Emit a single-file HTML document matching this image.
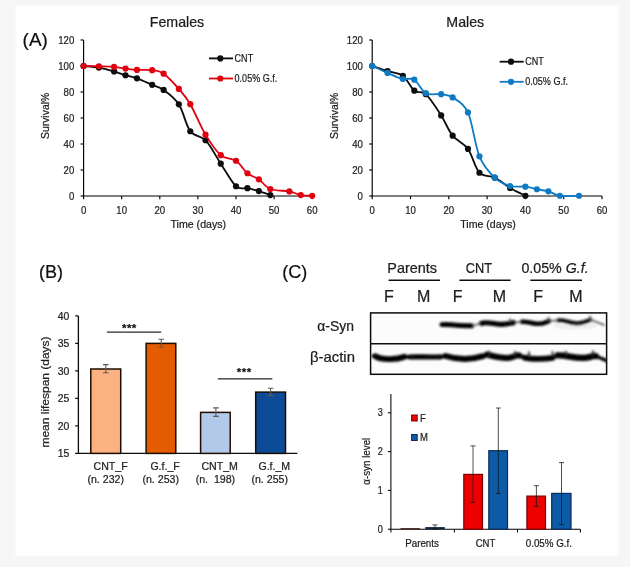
<!DOCTYPE html>
<html lang="en">
<head>
<meta charset="utf-8">
<title>Figure</title>
<style>
html,body{margin:0;padding:0;background:#f6f6f6;}
body{width:630px;height:567px;overflow:hidden;}
svg{display:block;font-family:"Liberation Sans", "DejaVu Sans", sans-serif;}
text{stroke:#1c1c1c;stroke-width:0.22px;paint-order:stroke;}
</style>
</head>
<body>
<svg width="630" height="567" viewBox="0 0 630 567">
<defs>
<filter id="bl" x="-5%" y="-50%" width="110%" height="200%"><feGaussianBlur stdDeviation="1.0"/></filter>
<filter id="soft" x="-2%" y="-2%" width="104%" height="104%"><feGaussianBlur stdDeviation="0.45"/></filter>
<filter id="soft2" x="-2%" y="-2%" width="104%" height="104%"><feGaussianBlur stdDeviation="1.1 0.6"/></filter>
<clipPath id="blotclip"><rect x="371.2" y="313.5" width="234.8" height="60.2"/></clipPath>
</defs>
<rect x="0" y="0" width="630" height="567" fill="#f6f6f6"/>
<rect x="15.4" y="5.6" width="602.9" height="550.3" fill="#ffffff" filter="url(#soft2)"/>
<g filter="url(#soft)">
<g stroke="#050505" stroke-width="1.15" fill="none">
<path d="M83.6,40.0 V196.0 H312.2"/>
<path d="M83.6,196.0 h-3"/>
<path d="M83.6,170.0 h-3"/>
<path d="M83.6,144.0 h-3"/>
<path d="M83.6,118.0 h-3"/>
<path d="M83.6,92.0 h-3"/>
<path d="M83.6,66.0 h-3"/>
<path d="M83.6,40.0 h-3"/>
<path d="M83.6,196.0 v3.2"/>
<path d="M121.7,196.0 v3.2"/>
<path d="M159.8,196.0 v3.2"/>
<path d="M197.9,196.0 v3.2"/>
<path d="M236.0,196.0 v3.2"/>
<path d="M274.1,196.0 v3.2"/>
<path d="M312.2,196.0 v3.2"/>
</g>
<text transform="translate(74.3,199.8) scale(0.900,1)" font-size="10.7" text-anchor="end" fill="#1c1c1c">0</text>
<text transform="translate(74.3,173.8) scale(0.900,1)" font-size="10.7" text-anchor="end" fill="#1c1c1c">20</text>
<text transform="translate(74.3,147.8) scale(0.900,1)" font-size="10.7" text-anchor="end" fill="#1c1c1c">40</text>
<text transform="translate(74.3,121.8) scale(0.900,1)" font-size="10.7" text-anchor="end" fill="#1c1c1c">60</text>
<text transform="translate(74.3,95.8) scale(0.900,1)" font-size="10.7" text-anchor="end" fill="#1c1c1c">80</text>
<text transform="translate(74.3,69.8) scale(0.900,1)" font-size="10.7" text-anchor="end" fill="#1c1c1c">100</text>
<text transform="translate(74.3,43.8) scale(0.900,1)" font-size="10.7" text-anchor="end" fill="#1c1c1c">120</text>
<text transform="translate(83.6,213.6) scale(0.900,1)" font-size="10.7" text-anchor="middle" fill="#1c1c1c">0</text>
<text transform="translate(121.7,213.6) scale(0.900,1)" font-size="10.7" text-anchor="middle" fill="#1c1c1c">10</text>
<text transform="translate(159.8,213.6) scale(0.900,1)" font-size="10.7" text-anchor="middle" fill="#1c1c1c">20</text>
<text transform="translate(197.9,213.6) scale(0.900,1)" font-size="10.7" text-anchor="middle" fill="#1c1c1c">30</text>
<text transform="translate(236.0,213.6) scale(0.900,1)" font-size="10.7" text-anchor="middle" fill="#1c1c1c">40</text>
<text transform="translate(274.1,213.6) scale(0.900,1)" font-size="10.7" text-anchor="middle" fill="#1c1c1c">50</text>
<text transform="translate(312.2,213.6) scale(0.900,1)" font-size="10.7" text-anchor="middle" fill="#1c1c1c">60</text>
<text x="198.3" y="228.3" font-size="10.6" text-anchor="middle" fill="#1c1c1c" >Time (days)</text>
<text transform="translate(49.0,115.9) rotate(-90)" font-size="10.3" text-anchor="middle" fill="#1c1c1c" textLength="46.3" lengthAdjust="spacingAndGlyphs">Survival%</text>
<text x="177.0" y="27.3" font-size="14.2" text-anchor="middle" fill="#1a1a1a" >Females</text>
<path d="M83.60,66.00 C86.14,66.26 93.76,66.65 98.84,67.56 C103.92,68.47 109.63,70.18 114.08,71.46 C118.53,72.74 121.70,74.08 125.51,75.23 C129.32,76.38 132.50,76.75 136.94,78.35 C141.38,79.95 147.74,82.92 152.18,84.85 C156.62,86.78 159.17,86.67 163.61,89.92 C168.06,93.17 174.41,97.46 178.85,104.35 C183.29,111.24 185.84,125.28 190.28,131.26 C194.72,137.24 200.44,134.83 205.52,140.23 C210.60,145.62 215.68,155.96 220.76,163.63 C225.84,171.30 231.56,182.16 236.00,186.25 C240.44,190.34 243.62,187.40 247.43,188.20 C251.24,189.00 255.05,189.91 258.86,191.06 C262.67,192.21 268.38,194.42 270.29,195.09" fill="none" stroke="#0a0a0a" stroke-width="1.8" stroke-linejoin="round"/>
<g fill="#0a0a0a">
<circle cx="83.60" cy="66.00" r="3.1"/>
<circle cx="98.84" cy="67.56" r="3.1"/>
<circle cx="114.08" cy="71.46" r="3.1"/>
<circle cx="125.51" cy="75.23" r="3.1"/>
<circle cx="136.94" cy="78.35" r="3.1"/>
<circle cx="152.18" cy="84.85" r="3.1"/>
<circle cx="163.61" cy="89.92" r="3.1"/>
<circle cx="178.85" cy="104.35" r="3.1"/>
<circle cx="190.28" cy="131.26" r="3.1"/>
<circle cx="205.52" cy="140.23" r="3.1"/>
<circle cx="220.76" cy="163.63" r="3.1"/>
<circle cx="236.00" cy="186.25" r="3.1"/>
<circle cx="247.43" cy="188.20" r="3.1"/>
<circle cx="258.86" cy="191.06" r="3.1"/>
<circle cx="270.29" cy="195.09" r="3.1"/>
</g>
<path d="M83.60,66.00 C86.14,66.04 93.76,66.13 98.84,66.26 C103.92,66.39 109.63,66.39 114.08,66.78 C118.53,67.17 121.70,68.08 125.51,68.60 C129.32,69.12 132.50,69.64 136.94,69.90 C141.38,70.16 147.74,69.53 152.18,70.16 C156.62,70.79 159.17,70.55 163.61,73.67 C168.06,76.79 174.41,83.79 178.85,88.88 C183.29,93.97 185.84,96.59 190.28,104.22 C194.72,111.85 200.44,126.15 205.52,134.64 C210.60,143.13 215.68,150.83 220.76,155.18 C225.84,159.53 231.56,157.76 236.00,160.77 C240.44,163.78 243.62,170.15 247.43,173.25 C251.24,176.35 255.05,176.74 258.86,179.36 C262.67,181.98 265.21,186.97 270.29,188.98 C275.37,190.99 284.26,190.43 289.34,191.45 C294.42,192.47 296.96,194.36 300.77,195.09 C304.58,195.82 310.29,195.69 312.20,195.81" fill="none" stroke="#e1060f" stroke-width="1.8" stroke-linejoin="round"/>
<g fill="#e1060f">
<circle cx="83.60" cy="66.00" r="3.1"/>
<circle cx="98.84" cy="66.26" r="3.1"/>
<circle cx="114.08" cy="66.78" r="3.1"/>
<circle cx="125.51" cy="68.60" r="3.1"/>
<circle cx="136.94" cy="69.90" r="3.1"/>
<circle cx="152.18" cy="70.16" r="3.1"/>
<circle cx="163.61" cy="73.67" r="3.1"/>
<circle cx="178.85" cy="88.88" r="3.1"/>
<circle cx="190.28" cy="104.22" r="3.1"/>
<circle cx="205.52" cy="134.64" r="3.1"/>
<circle cx="220.76" cy="155.18" r="3.1"/>
<circle cx="236.00" cy="160.77" r="3.1"/>
<circle cx="247.43" cy="173.25" r="3.1"/>
<circle cx="258.86" cy="179.36" r="3.1"/>
<circle cx="270.29" cy="188.98" r="3.1"/>
<circle cx="289.34" cy="191.45" r="3.1"/>
<circle cx="300.77" cy="195.09" r="3.1"/>
<circle cx="312.20" cy="195.81" r="3.1"/>
</g>
<path d="M209.0,58.4 h24" stroke="#0a0a0a" stroke-width="1.8"/>
<circle cx="220.3" cy="58.4" r="3.1" fill="#0a0a0a"/>
<text transform="translate(234.6,61.9) scale(0.885,1)" font-size="10.2" text-anchor="start" fill="#1c1c1c">CNT</text>
<path d="M209.0,78.5 h24" stroke="#e1060f" stroke-width="1.8"/>
<circle cx="220.3" cy="78.5" r="3.1" fill="#e1060f"/>
<text transform="translate(234.6,82.0) scale(0.885,1)" font-size="10.2" text-anchor="start" fill="#1c1c1c">0.05% G.f.</text>
<g stroke="#050505" stroke-width="1.15" fill="none">
<path d="M372.2,40.0 V196.0 H602.0"/>
<path d="M372.2,196.0 h-3"/>
<path d="M372.2,170.0 h-3"/>
<path d="M372.2,144.0 h-3"/>
<path d="M372.2,118.0 h-3"/>
<path d="M372.2,92.0 h-3"/>
<path d="M372.2,66.0 h-3"/>
<path d="M372.2,40.0 h-3"/>
<path d="M372.2,196.0 v3.2"/>
<path d="M410.5,196.0 v3.2"/>
<path d="M448.8,196.0 v3.2"/>
<path d="M487.1,196.0 v3.2"/>
<path d="M525.4,196.0 v3.2"/>
<path d="M563.7,196.0 v3.2"/>
<path d="M602.0,196.0 v3.2"/>
</g>
<text transform="translate(362.9,199.8) scale(0.900,1)" font-size="10.7" text-anchor="end" fill="#1c1c1c">0</text>
<text transform="translate(362.9,173.8) scale(0.900,1)" font-size="10.7" text-anchor="end" fill="#1c1c1c">20</text>
<text transform="translate(362.9,147.8) scale(0.900,1)" font-size="10.7" text-anchor="end" fill="#1c1c1c">40</text>
<text transform="translate(362.9,121.8) scale(0.900,1)" font-size="10.7" text-anchor="end" fill="#1c1c1c">60</text>
<text transform="translate(362.9,95.8) scale(0.900,1)" font-size="10.7" text-anchor="end" fill="#1c1c1c">80</text>
<text transform="translate(362.9,69.8) scale(0.900,1)" font-size="10.7" text-anchor="end" fill="#1c1c1c">100</text>
<text transform="translate(362.9,43.8) scale(0.900,1)" font-size="10.7" text-anchor="end" fill="#1c1c1c">120</text>
<text transform="translate(372.2,213.6) scale(0.900,1)" font-size="10.7" text-anchor="middle" fill="#1c1c1c">0</text>
<text transform="translate(410.5,213.6) scale(0.900,1)" font-size="10.7" text-anchor="middle" fill="#1c1c1c">10</text>
<text transform="translate(448.8,213.6) scale(0.900,1)" font-size="10.7" text-anchor="middle" fill="#1c1c1c">20</text>
<text transform="translate(487.1,213.6) scale(0.900,1)" font-size="10.7" text-anchor="middle" fill="#1c1c1c">30</text>
<text transform="translate(525.4,213.6) scale(0.900,1)" font-size="10.7" text-anchor="middle" fill="#1c1c1c">40</text>
<text transform="translate(563.7,213.6) scale(0.900,1)" font-size="10.7" text-anchor="middle" fill="#1c1c1c">50</text>
<text transform="translate(602.0,213.6) scale(0.900,1)" font-size="10.7" text-anchor="middle" fill="#1c1c1c">60</text>
<text x="488.0" y="228.3" font-size="10.6" text-anchor="middle" fill="#1c1c1c" >Time (days)</text>
<text transform="translate(337.6,115.9) rotate(-90)" font-size="10.3" text-anchor="middle" fill="#1c1c1c" textLength="46.3" lengthAdjust="spacingAndGlyphs">Survival%</text>
<text x="465.3" y="27.3" font-size="14.2" text-anchor="middle" fill="#1a1a1a" >Males</text>
<path d="M372.20,66.00 C374.75,66.84 382.41,69.45 387.52,71.07 C392.63,72.70 398.37,72.48 402.84,75.75 C407.31,79.02 410.50,87.62 414.33,90.70 C418.16,93.78 421.35,90.09 425.82,94.21 C430.29,98.33 436.67,108.49 441.14,115.40 C445.61,122.31 448.16,130.09 452.63,135.68 C457.10,141.27 463.48,142.76 467.95,148.94 C472.42,155.12 474.97,167.94 479.44,172.73 C483.91,177.52 489.65,175.13 494.76,177.67 C499.87,180.20 504.97,184.93 510.08,187.94 C515.19,190.95 522.85,194.44 525.40,195.74" fill="none" stroke="#0a0a0a" stroke-width="1.8" stroke-linejoin="round"/>
<g fill="#0a0a0a">
<circle cx="372.20" cy="66.00" r="3.1"/>
<circle cx="387.52" cy="71.07" r="3.1"/>
<circle cx="402.84" cy="75.75" r="3.1"/>
<circle cx="414.33" cy="90.70" r="3.1"/>
<circle cx="425.82" cy="94.21" r="3.1"/>
<circle cx="441.14" cy="115.40" r="3.1"/>
<circle cx="452.63" cy="135.68" r="3.1"/>
<circle cx="467.95" cy="148.94" r="3.1"/>
<circle cx="479.44" cy="172.73" r="3.1"/>
<circle cx="494.76" cy="177.67" r="3.1"/>
<circle cx="510.08" cy="187.94" r="3.1"/>
<circle cx="525.40" cy="195.74" r="3.1"/>
</g>
<path d="M372.20,66.00 C374.75,67.15 382.41,70.72 387.52,72.89 C392.63,75.06 398.37,77.87 402.84,79.00 C407.31,80.13 410.50,77.29 414.33,79.65 C418.16,82.01 421.35,90.74 425.82,93.17 C430.29,95.60 436.67,93.49 441.14,94.21 C445.61,94.92 448.16,94.43 452.63,97.46 C457.10,100.49 463.48,102.59 467.95,112.41 C472.42,122.22 474.97,145.47 479.44,156.35 C483.91,167.23 489.65,172.73 494.76,177.67 C499.87,182.61 504.97,184.50 510.08,185.99 C515.19,187.49 520.93,186.10 525.40,186.64 C529.87,187.18 533.06,188.46 536.89,189.24 C540.72,190.02 544.55,190.24 548.38,191.32 C552.21,192.40 554.76,195.00 559.87,195.74 C564.98,196.48 575.83,195.74 579.02,195.74" fill="none" stroke="#0f7ac4" stroke-width="1.8" stroke-linejoin="round"/>
<g fill="#0f7ac4">
<circle cx="372.20" cy="66.00" r="3.1"/>
<circle cx="387.52" cy="72.89" r="3.1"/>
<circle cx="402.84" cy="79.00" r="3.1"/>
<circle cx="414.33" cy="79.65" r="3.1"/>
<circle cx="425.82" cy="93.17" r="3.1"/>
<circle cx="441.14" cy="94.21" r="3.1"/>
<circle cx="452.63" cy="97.46" r="3.1"/>
<circle cx="467.95" cy="112.41" r="3.1"/>
<circle cx="479.44" cy="156.35" r="3.1"/>
<circle cx="494.76" cy="177.67" r="3.1"/>
<circle cx="510.08" cy="185.99" r="3.1"/>
<circle cx="525.40" cy="186.64" r="3.1"/>
<circle cx="536.89" cy="189.24" r="3.1"/>
<circle cx="548.38" cy="191.32" r="3.1"/>
<circle cx="559.87" cy="195.74" r="3.1"/>
<circle cx="579.02" cy="195.74" r="3.1"/>
</g>
<path d="M499.7,61.7 h24" stroke="#0a0a0a" stroke-width="1.8"/>
<circle cx="511.0" cy="61.7" r="3.1" fill="#0a0a0a"/>
<text transform="translate(525.3,65.2) scale(0.885,1)" font-size="10.2" text-anchor="start" fill="#1c1c1c">CNT</text>
<path d="M499.7,81.8 h24" stroke="#0f7ac4" stroke-width="1.8"/>
<circle cx="511.0" cy="81.8" r="3.1" fill="#0f7ac4"/>
<text transform="translate(525.3,85.3) scale(0.885,1)" font-size="10.2" text-anchor="start" fill="#1c1c1c">0.05% G.f.</text>
<text x="35.2" y="45.7" font-size="18.9" text-anchor="middle" fill="#111" >(A)</text>
<text x="51.1" y="278.0" font-size="18" text-anchor="middle" fill="#111" >(B)</text>
<text x="294.8" y="278.2" font-size="18" text-anchor="middle" fill="#111" >(C)</text>
<g stroke="#111" stroke-width="1.3" fill="none">
<path d="M78.4,315.9 V453.4 H297.4"/>
<path d="M78.4,453.4 h-3.2"/>
<path d="M78.4,425.9 h-3.2"/>
<path d="M78.4,398.4 h-3.2"/>
<path d="M78.4,370.9 h-3.2"/>
<path d="M78.4,343.4 h-3.2"/>
<path d="M78.4,315.9 h-3.2"/>
</g>
<text x="69.4" y="457.1" font-size="10.4" text-anchor="end" fill="#1c1c1c" >15</text>
<text x="69.4" y="429.6" font-size="10.4" text-anchor="end" fill="#1c1c1c" >20</text>
<text x="69.4" y="402.1" font-size="10.4" text-anchor="end" fill="#1c1c1c" >25</text>
<text x="69.4" y="374.6" font-size="10.4" text-anchor="end" fill="#1c1c1c" >30</text>
<text x="69.4" y="347.1" font-size="10.4" text-anchor="end" fill="#1c1c1c" >35</text>
<text x="69.4" y="319.6" font-size="10.4" text-anchor="end" fill="#1c1c1c" >40</text>
<text transform="translate(48.9,392.0) rotate(-90)" font-size="11.5" text-anchor="middle" fill="#1c1c1c" textLength="111.0" lengthAdjust="spacingAndGlyphs">mean lifespan (days)</text>
<rect x="90.8" y="369.0" width="29.9" height="84.4" fill="#fcb182" stroke="#1c0d04" stroke-width="1.5"/>
<path d="M105.8,364.6 V372.8 M103.0,364.6 h5.6 M103.0,372.8 h5.6" stroke="#5e5a58" stroke-width="1.1" fill="none"/>
<rect x="146.1" y="343.4" width="29.7" height="110.0" fill="#e55c05" stroke="#1c0d04" stroke-width="1.5"/>
<path d="M161.2,339.3 V347.0 M158.4,339.3 h5.6 M158.4,347.0 h5.6" stroke="#5e5a58" stroke-width="1.1" fill="none"/>
<rect x="200.6" y="412.4" width="29.6" height="41.0" fill="#b3c9ea" stroke="#1c0d04" stroke-width="1.5"/>
<path d="M215.9,407.9 V416.4 M213.1,407.9 h5.6 M213.1,416.4 h5.6" stroke="#5e5a58" stroke-width="1.1" fill="none"/>
<rect x="255.7" y="392.1" width="29.8" height="61.3" fill="#0a4c97" stroke="#1c0d04" stroke-width="1.5"/>
<path d="M270.6,388.2 V395.4 M267.8,388.2 h5.6 M267.8,395.4 h5.6" stroke="#5e5a58" stroke-width="1.1" fill="none"/>
<path d="M106.9,332.1 H161.2 M217.8,378.9 H272.3" stroke="#2a2a2a" stroke-width="1.4"/>
<text x="129.4" y="331.6" font-size="11.5" text-anchor="middle" fill="#111" letter-spacing="0.5" font-weight="bold">***</text>
<text x="244.3" y="376.4" font-size="11.5" text-anchor="middle" fill="#111" letter-spacing="0.5" font-weight="bold">***</text>
<text x="110.6" y="470.1" font-size="10.6" text-anchor="middle" fill="#1c1c1c" >CNT_F</text>
<text x="105.7" y="482.9" font-size="10.6" text-anchor="middle" fill="#1c1c1c" xml:space="preserve">(n. 232)</text>
<text x="165.1" y="470.1" font-size="10.6" text-anchor="middle" fill="#1c1c1c" >G.f._F</text>
<text x="160.7" y="482.9" font-size="10.6" text-anchor="middle" fill="#1c1c1c" xml:space="preserve">(n. 253)</text>
<text x="219.7" y="470.1" font-size="10.6" text-anchor="middle" fill="#1c1c1c" >CNT_M</text>
<text x="215.4" y="482.9" font-size="10.6" text-anchor="middle" fill="#1c1c1c" xml:space="preserve">(n.  198)</text>
<text x="274.3" y="470.1" font-size="10.6" text-anchor="middle" fill="#1c1c1c" >G.f._M</text>
<text x="269.7" y="482.9" font-size="10.6" text-anchor="middle" fill="#1c1c1c" xml:space="preserve">(n. 255)</text>
<text x="412.1" y="272.8" font-size="14.2" text-anchor="middle" fill="#1a1a1a" textLength="49.6" lengthAdjust="spacingAndGlyphs" >Parents</text>
<path d="M388.6,280.3 H440.0" stroke="#111" stroke-width="1.45"/>
<text x="478.9" y="272.8" font-size="14.2" text-anchor="middle" fill="#1a1a1a" textLength="26.3" lengthAdjust="spacingAndGlyphs" >CNT</text>
<path d="M459.4,280.3 H510.6" stroke="#111" stroke-width="1.45"/>
<text x="521.4" y="272.8" font-size="14.2" fill="#1a1a1a" textLength="67.2" lengthAdjust="spacingAndGlyphs">0.05% <tspan font-style="italic">G.f.</tspan></text>
<path d="M530.3,280.3 H582" stroke="#111" stroke-width="1.45"/>
<text x="389.0" y="302.0" font-size="16" text-anchor="middle" fill="#1a1a1a" >F</text>
<text x="423.6" y="302.0" font-size="16" text-anchor="middle" fill="#1a1a1a" >M</text>
<text x="457.6" y="302.0" font-size="16" text-anchor="middle" fill="#1a1a1a" >F</text>
<text x="499.3" y="302.0" font-size="16" text-anchor="middle" fill="#1a1a1a" >M</text>
<text x="538.2" y="302.0" font-size="16" text-anchor="middle" fill="#1a1a1a" >F</text>
<text x="576.0" y="302.0" font-size="16" text-anchor="middle" fill="#1a1a1a" >M</text>
<text x="353.9" y="331.4" font-size="14.2" text-anchor="end" fill="#1a1a1a" textLength="36.6" lengthAdjust="spacingAndGlyphs" >α-Syn</text>
<text x="354.9" y="362.0" font-size="14.2" text-anchor="end" fill="#1a1a1a" textLength="44.9" lengthAdjust="spacingAndGlyphs" >β-actin</text>
<rect x="370.6" y="312.9" width="236" height="61.4" fill="#fcfcfc" stroke="#0c0c0c" stroke-width="1.5"/>
<path d="M370.6,343.7 H606.6" stroke="#111" stroke-width="1.6"/>
<g clip-path="url(#blotclip)"><g filter="url(#bl)" fill="none" stroke="#050505" stroke-linecap="round" stroke-linejoin="round">
<path d="M442,324.6 C447,323.8 453,325.4 460,325.4 S468,326 471.5,325.8" stroke-width="5"/>
<path d="M481.5,323.4 C485,321.8 490,323 497,324 S508,323.8 513.5,322.6" stroke-width="5.2"/>
<path d="M522,321.8 C526,321 531,323.6 537,323.8 S545,322.6 549,321" stroke-width="4.6"/>
<path d="M558.5,320.4 C563,319.4 568,322.4 575,323.2 S586,321.6 590.5,319.8" stroke-width="4.2" stroke="#101010"/>
<path d="M591,320 C596,321.5 600,323.5 604,325" stroke-width="2" stroke="#777"/>
<path d="M473,325.6 L480,323.8 M515,322.4 L520.5,322 M550.5,320.8 L557,320.6" stroke-width="1.6" stroke="#555"/>
<path d="M510,319 v3 M548.5,317.8 v3.2 M590,316.2 v3.6" stroke-width="1.6" stroke="#444"/>
<path d="M556,325.5 C566,327.5 582,327.5 594,325.5" stroke-width="5" stroke="#ccc" opacity="0.28"/>
<path d="M375.5,356.2 C381,359.8 396,360.1 404.5,356.8" stroke-width="5.8"/>
<path d="M409.5,357 C418,356.6 432,357.4 440.5,356.8" stroke-width="5.2"/>
<path d="M445.5,356 C456,359.2 470,360.2 483,356.2" stroke-width="6"/>
<path d="M487,354.6 C493,356 505,359.6 512,357.2 S517,355 519.5,355.6" stroke-width="6"/>
<path d="M524.5,357.6 C531,359.4 545,359.2 552.5,357.8" stroke-width="5.8"/>
<path d="M557.5,355.4 C566,354.8 575,358.8 585,357.8 S592,355 596,356.2" stroke-width="6.2"/>
<path d="M596,356.4 C600,357.6 603,359.2 606,360.4" stroke-width="3.6"/>
<path d="M373,356 L376,356.4 M404,357 L410,357 M440,356.8 L446,356.2 M483,356 L487.5,355 M519,356 L525,357.4 M552,357.6 L558,355.8" stroke-width="3.4"/>
<path d="M489,351.4 v4 M515,352 v3.4 M529,352.2 v4.6 M552.5,352 v4.4 M566,351.6 v3.6 M593,351.2 v4" stroke-width="1.8" stroke="#222"/>
</g></g>
<g stroke="#050505" stroke-width="1.05" fill="none">
<path d="M390.9,394 V529.2 H580.4"/>
<path d="M390.9,529.2 h-3"/>
<path d="M390.9,490.4 h-3"/>
<path d="M390.9,451.6 h-3"/>
<path d="M390.9,412.8 h-3"/>
<path d="M390.9,529.2 v3.2"/>
<path d="M454.4,529.2 v3.2"/>
<path d="M517.5,529.2 v3.2"/>
<path d="M580.4,529.2 v3.2"/>
</g>
<text transform="translate(382.8,532.7) scale(0.900,1)" font-size="10.1" text-anchor="end" fill="#1c1c1c">0</text>
<text transform="translate(382.8,493.9) scale(0.900,1)" font-size="10.1" text-anchor="end" fill="#1c1c1c">1</text>
<text transform="translate(382.8,455.1) scale(0.900,1)" font-size="10.1" text-anchor="end" fill="#1c1c1c">2</text>
<text transform="translate(382.8,416.3) scale(0.900,1)" font-size="10.1" text-anchor="end" fill="#1c1c1c">3</text>
<text transform="translate(370.2,461.2) rotate(-90)" font-size="10.6" text-anchor="middle" fill="#1c1c1c" textLength="47.0" lengthAdjust="spacingAndGlyphs">α-syn level</text>
<rect x="400.5" y="528.2" width="19.5" height="1.0" fill="#3a0a0a"/>
<rect x="425.3" y="527.1" width="19.5" height="2.1" fill="#0a2040"/>
<path d="M435.0,524.9 V529.2 M432.5,524.9 h5 M432.5,529.2 h5" stroke="#161616" stroke-width="0.75" fill="none"/>
<rect x="463.8" y="474.4" width="18.7" height="54.8" fill="#ec0006" stroke="#7d0004" stroke-width="1.2"/>
<path d="M473.0,445.9 V502.4 M470.5,445.9 h5 M470.5,502.4 h5" stroke="#161616" stroke-width="0.75" fill="none"/>
<rect x="488.8" y="450.7" width="18.7" height="78.5" fill="#0b5aa6" stroke="#0a2c5c" stroke-width="1.2"/>
<path d="M498.3,408.0 V493.5 M495.8,408.0 h5 M495.8,493.5 h5" stroke="#161616" stroke-width="0.75" fill="none"/>
<rect x="526.9" y="496.1" width="18.6" height="33.1" fill="#ec0006" stroke="#7d0004" stroke-width="1.2"/>
<path d="M536.4,485.7 V506.4 M533.9,485.7 h5 M533.9,506.4 h5" stroke="#161616" stroke-width="0.75" fill="none"/>
<rect x="551.7" y="493.4" width="19.3" height="35.8" fill="#0b5aa6" stroke="#0a2c5c" stroke-width="1.2"/>
<path d="M561.5,462.6 V524.7 M559.0,462.6 h5 M559.0,524.7 h5" stroke="#161616" stroke-width="0.75" fill="none"/>
<rect x="411.6" y="415" width="5.6" height="6" fill="#ec0006" stroke="#7d0004" stroke-width="1"/>
<rect x="411.6" y="434.5" width="5.6" height="6" fill="#0b5aa6" stroke="#0a2c5c" stroke-width="1"/>
<text transform="translate(420.0,421.9) scale(0.900,1)" font-size="10.6" text-anchor="start" fill="#1c1c1c">F</text>
<text transform="translate(420.0,441.4) scale(0.900,1)" font-size="10.6" text-anchor="start" fill="#1c1c1c">M</text>
<text transform="translate(422.0,547.0) scale(0.940,1)" font-size="10.4" text-anchor="middle" fill="#1c1c1c">Parents</text>
<text transform="translate(485.5,547.0) scale(0.920,1)" font-size="10.4" text-anchor="middle" fill="#1c1c1c">CNT</text>
<text transform="translate(548.8,547.0) scale(0.940,1)" font-size="10.4" text-anchor="middle" fill="#1c1c1c">0.05% G.f.</text>
</g>
</svg>
</body>
</html>
